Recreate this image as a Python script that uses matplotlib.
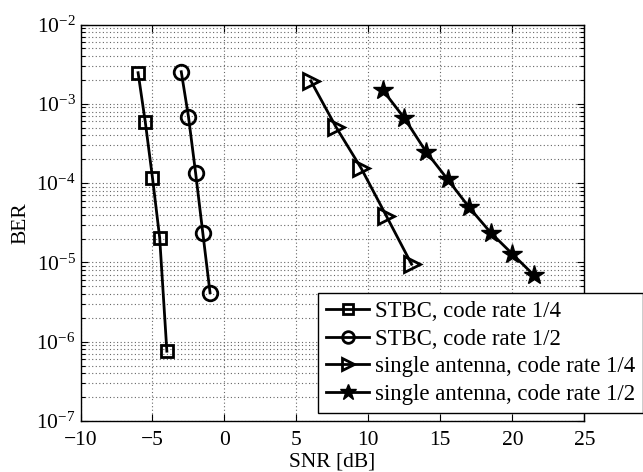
import matplotlib
matplotlib.use("Agg")
import matplotlib.pyplot as plt
from matplotlib.ticker import LogLocator, FixedLocator, NullFormatter

plt.rcParams["font.family"] = ["Liberation Serif", "DejaVu Serif"]
plt.rcParams["mathtext.fontset"] = "stix"

snr_stbc_14 = [-6, -5.5, -5, -4.5, -4]
ber_stbc_14 = [2.47e-3, 5.9e-4, 1.17e-4, 2.05e-5, 7.6e-7]

snr_stbc_12 = [-3, -2.5, -2, -1.5, -1]
ber_stbc_12 = [2.54e-3, 6.9e-4, 1.33e-4, 2.33e-5, 4.15e-6]

snr_single_14 = [6, 7.75, 9.5, 11.25, 13]
ber_single_14 = [1.95e-3, 5.1e-4, 1.54e-4, 3.85e-5, 9.5e-6]

snr_single_12 = [11, 12.5, 14, 15.5, 17, 18.5, 20, 21.5]
ber_single_12 = [1.49e-3, 6.6e-4, 2.5e-4, 1.12e-4, 4.95e-5, 2.37e-5, 1.28e-5, 6.9e-6]

labels = ["STBC, code rate 1/4", "STBC, code rate 1/2",
          "single antenna, code rate 1/4", "single antenna, code rate 1/2"]
x_ticks = [-10, -5, 0, 5, 10, 15, 20, 25]

fig = plt.figure(figsize=(6.43, 4.72), dpi=100)
ax = fig.add_axes([0.1252, 0.108, 0.7835, 0.840])

lw = 2.0
ax.semilogy(snr_stbc_14, ber_stbc_14, "k-", marker="s", ms=8.5, mfc="none",
            mew=2.0, lw=lw, label=labels[0])
ax.semilogy(snr_stbc_12, ber_stbc_12, "k-", marker="o", ms=10.5, mfc="none",
            mew=2.0, lw=lw, label=labels[1])
ax.semilogy(snr_single_14, ber_single_14, "k-", marker=">", ms=11, mfc="none",
            mew=2.0, lw=lw, label=labels[2])
ax.semilogy(snr_single_12, ber_single_12, "k-", marker="*", ms=15, mfc="k",
            mew=1.0, lw=lw, label=labels[3])

ax.set_xlim(-10, 25)
ax.set_ylim(1e-7, 1e-2)
ax.xaxis.set_major_locator(FixedLocator(x_ticks))
ax.set_xticklabels(["\u2212" + str(-t) if t < 0 else str(t) for t in x_ticks])
ax.yaxis.set_major_locator(LogLocator(base=10, numticks=10))
ax.yaxis.set_minor_locator(LogLocator(base=10, subs=range(2, 10), numticks=20))
ax.yaxis.set_minor_formatter(NullFormatter())

dots = (0, (1, 2.2))
ax.grid(True, which="major", axis="x", linestyle=dots, color="0.4", lw=0.8)
ax.grid(True, which="both", axis="y", linestyle=dots, color="0.4", lw=0.8)

ax.tick_params(which="both", direction="in", top=True, right=True,
               labelsize=15.5, width=0.8)
ax.tick_params(axis="x", pad=7)
ax.tick_params(which="major", length=5)
ax.tick_params(which="minor", length=3)
for s in ax.spines.values():
    s.set_linewidth(1.0)

ax.set_xlabel("SNR [dB]", fontsize=15.5, labelpad=2)
ax.set_ylabel("BER", fontsize=15.5, labelpad=4)

leg = ax.legend(loc="upper left", bbox_to_anchor=(318 / 643, 1 - 292.7 / 472),
                bbox_transform=fig.transFigure, fontsize=16.4, numpoints=1,
                handlelength=1.9, handletextpad=0.26, labelspacing=0.3,
                borderpad=0.35, borderaxespad=0, fancybox=False,
                edgecolor="k", framealpha=1)
leg.get_frame().set_linewidth(1.0)
for h in leg.legend_handles:
    h.set_markersize(h.get_markersize() * 0.8)

fig.savefig("out.png", dpi=100)
